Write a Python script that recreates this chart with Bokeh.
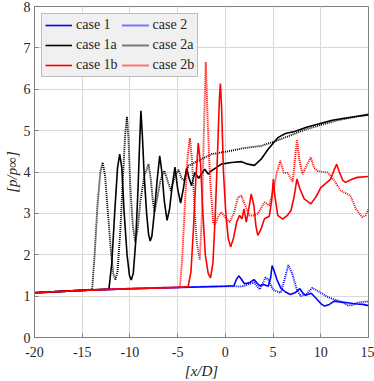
from bokeh.plotting import figure
from bokeh.models import Legend, LegendItem, FixedTicker
from bokeh.embed import file_html
from bokeh.resources import INLINE

# ---------------- data ----------------
case1_x = [-20, -15, -10, -5, 0, 0.9, 1.15, 1.4, 1.7, 2.0, 2.5, 3.0, 3.3, 3.6, 4.0, 4.5, 4.75, 4.9, 5.1, 5.4,
           5.8, 6.3, 6.8, 7.3, 7.8, 8.1, 8.4, 9.0, 9.5, 10.0, 10.4, 10.9, 11.4, 12.0, 12.8, 13.4, 13.8, 14.4, 15]
case1_y = [1.08, 1.14, 1.18, 1.21, 1.24, 1.25, 1.40, 1.49, 1.40, 1.30, 1.32, 1.40, 1.32, 1.25, 1.28, 1.24, 1.45,
           1.74, 1.62, 1.40, 1.20, 1.10, 1.04, 1.08, 1.18, 1.08, 1.02, 1.07, 0.95, 0.82, 0.76, 0.80, 0.88, 0.86,
           0.84, 0.82, 0.81, 0.80, 0.77]

case2_x = [-20, -15, -10, -5, 0, 1.0, 1.5, 2.0, 2.6, 3.0, 3.6, 3.9, 4.2, 4.5, 5.0, 5.8, 6.2, 6.6, 7.0, 7.5,
           7.9, 8.5, 9.1, 9.7, 10.3, 10.8, 11.4, 12.0, 12.8, 13.3, 13.8, 14.4, 15]
case2_y = [1.08, 1.14, 1.18, 1.21, 1.24, 1.24, 1.23, 1.25, 1.30, 1.33, 1.16, 1.30, 1.45, 1.40, 1.15, 1.08, 1.40,
           1.75, 1.55, 1.15, 1.00, 1.05, 1.20, 1.12, 1.04, 0.97, 0.92, 0.88, 0.78, 0.78, 0.84, 0.86, 0.87]

case1a_x = [-20, -15, -12.2, -11.9, -11.6, -11.3, -11.07, -10.85, -10.6, -10.3, -10.05, -9.86, -9.65, -9.4,
            -9.15, -9.0, -8.85, -8.7, -8.5, -8.25, -8.05, -7.88, -7.7, -7.45, -7.15, -6.88, -6.65, -6.4, -6.11,
            -5.85, -5.55, -5.28, -5.0, -4.69, -4.4, -4.06, -3.8, -3.54, -3.2, -2.8, -2.5, -2.16, -1.8, -1.46,
            -1.0, -0.42, 0.63, 1.7, 2.36, 3.05, 3.75, 4.48, 5.5, 6.3, 7.26, 8.5, 10.03, 11.2, 12.47, 13.7, 15]
case1a_y = [1.08, 1.14, 1.17, 1.8, 3.0, 4.1, 4.43, 4.1, 3.0, 2.0, 1.5, 1.39, 1.55, 2.3, 3.6, 4.6, 5.48, 4.9,
            3.9, 3.0, 2.5, 2.33, 2.45, 3.0, 3.8, 4.39, 4.0, 3.3, 2.83, 3.1, 3.7, 4.12, 3.6, 3.25, 3.6, 4.1, 3.85,
            3.67, 3.99, 3.85, 3.95, 4.07, 3.95, 4.03, 4.1, 4.19, 4.23, 4.25, 4.19, 4.16, 4.31, 4.55, 4.83, 4.93,
            4.98, 5.08, 5.18, 5.25, 5.30, 5.34, 5.38]

case2a_x = [-20, -15, -13.96, -13.7, -13.4, -13.1, -12.85, -12.6, -12.3, -12.0, -11.75, -11.53, -11.3, -11.0,
            -10.7, -10.5, -10.31, -10.15, -9.95, -9.7, -9.45, -9.2, -8.9, -8.5, -8.05, -7.8, -7.6, -7.43, -7.2,
            -6.8, -6.39, -6.0, -5.7, -5.3, -4.9, -4.6, -4.3, -3.89, -3.2, -1.46, 0.28, 2.0, 3.75, 5.17, 6.56,
            8.3, 10.03, 11.77, 13.5, 15]
case2a_y = [1.08, 1.14, 1.16, 2.0, 3.2, 4.0, 4.23, 3.9, 3.0, 2.1, 1.55, 1.39, 1.6, 2.6, 4.0, 4.9, 5.34, 4.8,
            3.6, 2.7, 2.31, 2.6, 3.3, 3.9, 4.19, 3.8, 3.3, 3.03, 3.3, 3.8, 4.03, 3.75, 3.55, 3.9, 4.05, 3.85,
            3.8, 4.15, 4.23, 4.43, 4.5, 4.58, 4.63, 4.74, 4.86, 5.02, 5.14, 5.25, 5.33, 5.40]

case1b_x = [-20, -15, -10, -5, -3.9, -3.6, -3.35, -3.1, -2.84, -2.6, -2.35, -2.1, -1.8, -1.56, -1.3, -1.05,
            -0.8, -0.62, -0.52, -0.4, -0.2, 0.05, 0.3, 0.55, 0.85, 1.2, 1.49, 1.74, 1.95, 2.19, 2.45, 2.71, 2.99,
            3.2, 3.4, 3.7, 4.1, 4.6, 4.85, 5.03, 5.2, 5.49, 6.01, 6.5, 6.88, 7.2, 7.5, 7.8, 8.26, 8.96, 9.5,
            10.0, 11.04, 11.4, 11.67, 11.95, 12.3, 12.6, 13.2, 13.82, 15]
case1b_y = [1.08, 1.14, 1.18, 1.21, 1.23, 1.6, 2.6, 3.8, 4.7, 4.2, 3.0, 2.0, 1.55, 1.44, 1.8, 3.0, 4.6, 5.8,
            6.14, 5.6, 4.0, 3.0, 2.4, 2.19, 2.4, 2.8, 2.95, 2.87, 3.11, 2.79, 3.1, 3.47, 3.19, 2.7, 2.47, 2.6,
            2.87, 2.93, 3.3, 3.83, 3.4, 2.95, 2.86, 2.95, 3.07, 3.4, 3.83, 3.6, 3.35, 3.23, 3.4, 3.62, 3.83,
            4.05, 4.19, 4.0, 3.8, 3.75, 3.82, 3.87, 3.89]

case2b_x = [-20, -15, -10, -4.76, -4.5, -4.2, -3.95, -3.72, -3.5, -3.25, -3.0, -2.68, -2.45, -2.25, -2.05,
            -1.85, -1.6, -1.28, -1.1, -0.8, -0.42, 0.0, 0.45, 0.9, 1.32, 1.67, 2.01, 2.53, 3.0, 3.4, 4.1, 4.6,
            5.14, 5.4, 5.76, 6.11, 6.53, 7.05, 7.25, 7.5, 7.75, 8.09, 8.6, 8.96, 9.3, 9.65, 10.2, 10.7, 11.4,
            12.08, 13.1, 13.7, 14.34, 14.7, 15]
case2b_y = [1.08, 1.14, 1.18, 1.22, 2.0, 3.4, 4.4, 4.82, 4.3, 3.2, 2.3, 1.87, 3.0, 5.0, 6.66, 5.2, 3.8, 2.79,
            2.72, 2.9, 3.03, 2.9, 2.79, 3.0, 3.39, 3.43, 3.23, 2.95, 2.95, 2.99, 3.27, 3.19, 3.67, 4.0, 4.27,
            3.98, 3.98, 3.76, 4.2, 4.78, 4.3, 3.95, 4.19, 4.35, 4.1, 4.03, 4.0, 3.99, 3.8, 3.55, 3.43, 3.1,
            2.91, 2.95, 3.11]

x_ticks = [-20, -15, -10, -5, 0, 5, 10, 15]
x_tick_labels = ["-20", "-15", "-10", "-5", "0", "5", "10", "15"]
y_ticks = [0, 1, 2, 3, 4, 5, 6, 7, 8]

# ---------------- figure ----------------
FONT = "Liberation Serif"
p = figure(width=374, height=381, x_range=(-20, 15), y_range=(0, 8),
           output_backend="svg", toolbar_location=None,
           min_border_left=32, min_border_right=6, min_border_top=6, min_border_bottom=41)
p.styles = {"position": "absolute", "left": "0px", "top": "0px"}

p.xaxis.ticker = FixedTicker(ticks=x_ticks)
p.xaxis.major_label_overrides = {t: s for t, s in zip(x_ticks, x_tick_labels)}
p.yaxis.ticker = FixedTicker(ticks=y_ticks)
for ax in (p.xaxis, p.yaxis):
    ax.major_label_text_font = FONT
    ax.major_label_text_font_size = "14px"
    ax.major_label_text_color = "#262626"
    ax.axis_line_color = "#808080"
    ax.major_tick_line_color = "#808080"
    ax.major_tick_in = 4
    ax.major_tick_out = 0
    ax.minor_tick_line_color = None
    ax.axis_label_text_font = FONT
    ax.axis_label_text_font_size = "15px"
    ax.axis_label_text_font_style = "italic"
    ax.axis_label_text_color = "#262626"
p.xaxis.axis_label = "[x/D]"
p.yaxis.axis_label = "[p/p∞]"
p.xaxis.major_label_standoff = 9
p.yaxis.major_label_standoff = 4
p.xaxis.axis_label_standoff = 3
p.yaxis.axis_label_standoff = 1
p.outline_line_color = "#808080"
p.xgrid.grid_line_color = "#d8d8d8"
p.ygrid.grid_line_color = "#d8d8d8"

BLUE, BLACK, RED = "#0000ff", "#000000", "#ff0000"
W = 1.6
WD = 1.9
DOT = "1 1"
r1 = p.line(case1_x, case1_y, line_color=BLUE, line_width=W)
r2 = p.line(case2_x, case2_y, line_color=BLUE, line_width=WD, line_dash=DOT)
r1a = p.line(case1a_x, case1a_y, line_color=BLACK, line_width=W)
r2a = p.line(case2a_x, case2a_y, line_color=BLACK, line_width=WD, line_dash=DOT)
r2b = p.line(case2b_x, case2b_y, line_color=RED, line_width=WD, line_dash=DOT)
r1b = p.line(case1b_x, case1b_y, line_color=RED, line_width=W)

legend = Legend(items=[
    LegendItem(label="case 1", renderers=[r1]),
    LegendItem(label="case 1a", renderers=[r1a]),
    LegendItem(label="case 1b", renderers=[r1b]),
    LegendItem(label="case 2", renderers=[r2]),
    LegendItem(label="case 2a", renderers=[r2a]),
    LegendItem(label="case 2b", renderers=[r2b]),
], location="top_left", ncols=2)
legend.margin = 7
legend.padding = 3
legend.spacing = 4
legend.glyph_width = 27
legend.glyph_height = 14
legend.label_standoff = 4
legend.label_height = 14
legend.label_text_font = FONT
legend.label_text_font_size = "14px"
legend.label_text_color = "#262626"
legend.background_fill_color = "#f0f0f0"
legend.background_fill_alpha = 1
legend.border_line_color = "#8c8c8c"
legend.border_line_width = 1
p.add_layout(legend)

open("out.html", "w").write(file_html(p, INLINE))
